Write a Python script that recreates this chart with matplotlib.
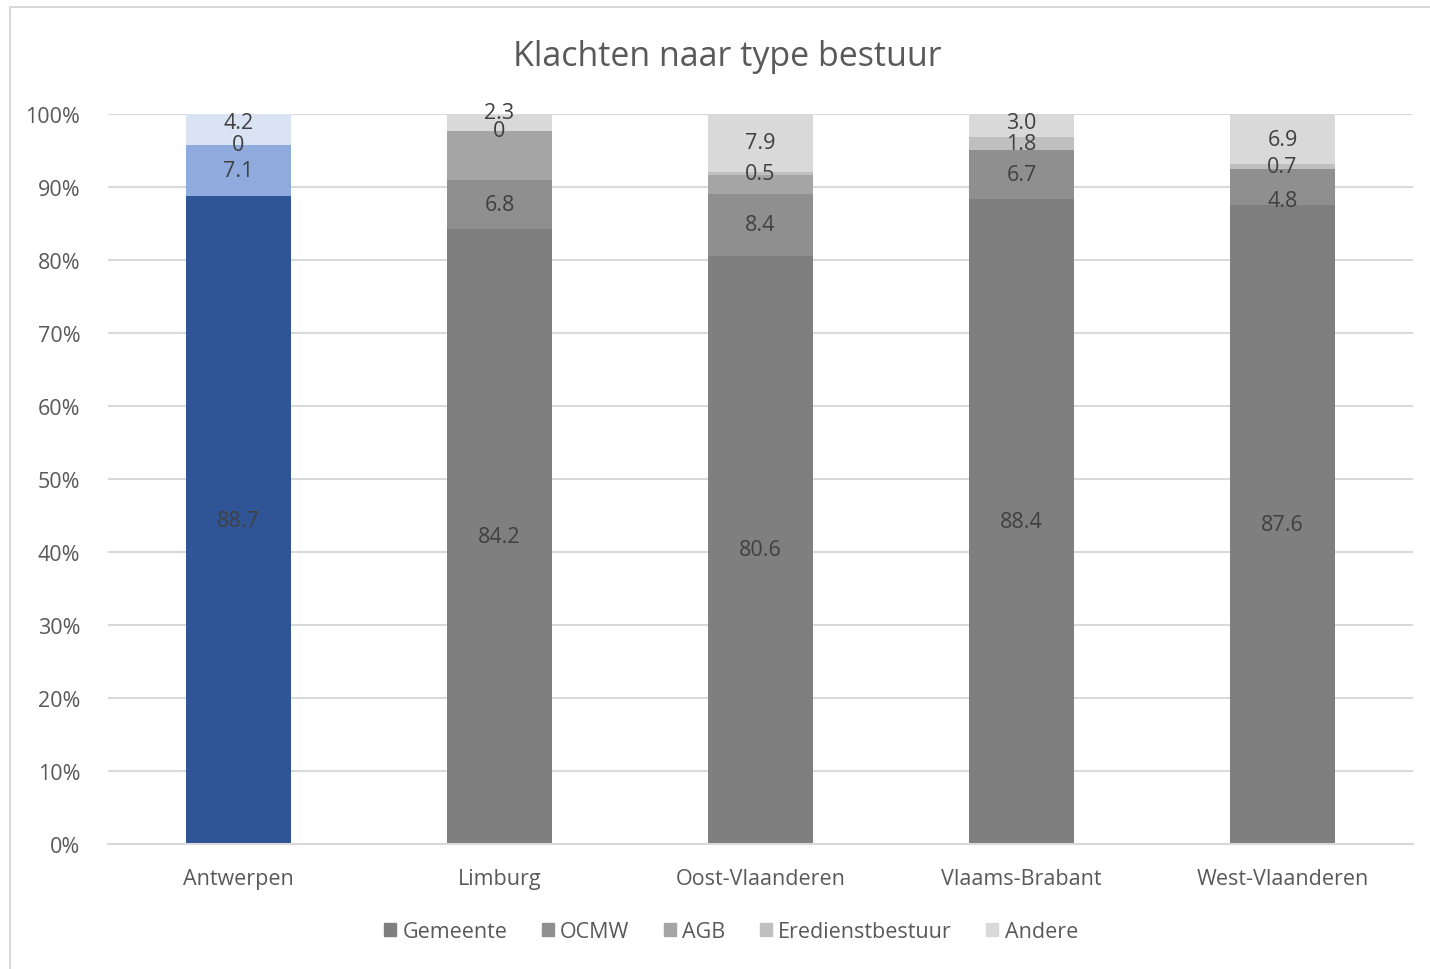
import numpy as np
import matplotlib.pyplot as plt
from matplotlib.patches import Rectangle

plt.rcParams['font.family'] = ['Open Sans', 'DejaVu Sans']

provinces = ['Antwerpen', 'Limburg', 'Oost-Vlaanderen', 'Vlaams-Brabant', 'West-Vlaanderen']
series = ['Gemeente', 'OCMW', 'AGB', 'Eredienstbestuur', 'Andere']

gemeente = [88.7, 84.2, 80.6, 88.4, 87.6]
ocmw = [7.1, 6.8, 8.4, 6.7, 4.8]
agb = [0.0, 6.7, 2.6, 0.0, 0.0]
eredienst = [0.0, 0.0, 0.5, 1.8, 0.7]
andere = [4.2, 2.3, 7.9, 3.0, 6.9]

# labels as shown in the chart (AGB has no label)
lab_gemeente = ['88.7', '84.2', '80.6', '88.4', '87.6']
lab_ocmw = ['7.1', '6.8', '8.4', '6.7', '4.8']
lab_agb = [None, None, None, None, None]
lab_eredienst = ['0', '0', '0.5', '1.8', '0.7']
lab_andere = ['4.2', '2.3', '7.9', '3.0', '6.9']

values = [gemeente, ocmw, agb, eredienst, andere]
labels = [lab_gemeente, lab_ocmw, lab_agb, lab_eredienst, lab_andere]

# small nudges of crowded labels (series index, province index) -> shift in %
nudge = {(4, 1): 1.4, (4, 0): 1.0, (1, 4): -1.9, (4, 3): 0.4}

grays = ['#7f7f7f', '#8f8f8f', '#a5a5a5', '#bfbfbf', '#d9d9d9']
blues = ['#2f5597', '#8faadc', '#a9bfe6', '#c3d3ef', '#dae3f3']

fig = plt.figure(figsize=(14.3, 9.7), dpi=100)
ax = fig.add_axes([108 / 1430, 1 - 845 / 970, (1413 - 108) / 1430, (845 - 115) / 970])

x = np.arange(len(provinces))
bottom = np.zeros(len(provinces))
for i, (name, vals) in enumerate(zip(series, values)):
    vals = np.array(vals)
    cols = [blues[i] if p == 'Antwerpen' else grays[i] for p in provinces]
    ax.bar(x, vals, 0.4, bottom=bottom, color=cols, label=name, zorder=2)
    for j in range(len(provinces)):
        if labels[i][j] is not None:
            ypos = bottom[j] + vals[j] / 2 + nudge.get((i, j), 0)
            ax.text(x[j], ypos, labels[i][j], ha='center', va='center',
                    fontsize=15.5, color='#404040', zorder=3)
    bottom += vals

ax.set_ylim(0, 100)
ax.set_xlim(-0.5, len(provinces) - 0.5)
ax.set_yticks(np.arange(0, 101, 10))
ax.set_yticklabels([f'{v}%' for v in range(0, 101, 10)])
ax.set_xticks(x)
ax.set_xticklabels(provinces)
ax.tick_params(axis='both', length=0, labelsize=15.5, colors='#595959')
ax.tick_params(axis='x', pad=17)
ax.tick_params(axis='y', pad=20)
ax.grid(axis='y', color='#d9d9d9', linewidth=1.5, zorder=0)
for s in ['top', 'right', 'left']:
    ax.spines[s].set_visible(False)
ax.spines['bottom'].set_color('#d9d9d9')
ax.spines['bottom'].set_linewidth(1.5)

fig.text(727 / 1430, 1 - 57 / 970, 'Klachten naar type bestuur', ha='center', va='center',
         fontsize=24.5, color='#595959')

handles = [Rectangle((0, 0), 1, 1, color=c) for c in grays]
fig.legend(handles, series, loc='center', bbox_to_anchor=(731 / 1430, 1 - 933 / 970), ncol=5,
           frameon=False, fontsize=15.5, labelcolor='#595959', handlelength=0.55, handleheight=0.55,
           handletextpad=0.3, columnspacing=1.6)

fig.add_artist(Rectangle((10 / 1430, -0.05), 1.1, 1 - 8 / 970 + 0.05, transform=fig.transFigure,
                         fill=False, edgecolor='#d9d9d9', linewidth=1.5))

fig.savefig('out.png')
